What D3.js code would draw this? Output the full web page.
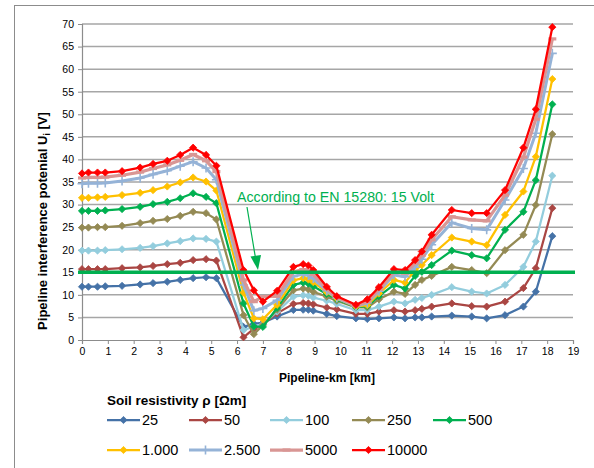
<!DOCTYPE html>
<html><head><meta charset="utf-8">
<script src="https://cdn.jsdelivr.net/npm/d3@7"></script>
<style>
html,body{margin:0;padding:0;background:#fff;}
svg{display:block;font-family:"Liberation Sans",Arial,sans-serif;}
</style></head>
<body><svg id="chart" width="594" height="468"></svg>
<script>
const km = [0, 0.25, 0.6, 0.9, 1.55, 2.25, 2.75, 3.3, 3.8, 4.3, 4.8, 5.2, 6.25, 6.65, 7.0, 7.55, 8.18, 8.56, 8.76, 8.95, 9.47, 9.86, 10.6, 11.04, 11.49, 12.07, 12.5, 12.89, 13.15, 13.53, 14.31, 15.08, 15.66, 16.37, 17.08, 17.56, 18.2];
const s25 = [11.8, 11.8, 11.8, 11.9, 12.0, 12.3, 12.6, 12.9, 13.3, 13.7, 13.9, 13.7, 2.9, 3.6, 3.8, 5.2, 6.65, 6.7, 6.7, 6.5, 5.8, 5.3, 4.8, 4.65, 4.8, 5.0, 4.8, 5.0, 5.0, 5.2, 5.4, 5.2, 4.8, 5.5, 7.4, 10.7, 23.0];
const s50 = [15.7, 15.7, 15.7, 15.7, 15.9, 16.1, 16.4, 16.8, 17.1, 17.7, 17.9, 17.6, 0.6, 2.5, 3.5, 5.9, 8.0, 8.2, 8.1, 7.9, 7.2, 6.8, 5.8, 5.8, 6.3, 6.6, 6.3, 6.6, 6.9, 7.4, 8.1, 7.5, 7.4, 8.5, 11.5, 15.9, 29.2];
const s100 = [19.8, 19.8, 19.8, 19.9, 20.1, 20.4, 20.8, 21.4, 21.9, 22.5, 22.4, 21.8, 2.2, 3.0, 3.5, 6.3, 9.6, 9.9, 9.8, 9.4, 8.7, 8.0, 6.6, 6.6, 7.4, 8.5, 8.1, 8.9, 9.3, 10.0, 11.7, 10.7, 10.3, 12.2, 16.2, 21.8, 36.4];
const s250 = [24.9, 24.9, 25.0, 25.0, 25.3, 25.9, 26.4, 26.8, 27.5, 28.4, 28.1, 26.7, 5.5, 1.3, 3.3, 6.7, 11.0, 11.4, 11.2, 10.7, 9.6, 8.7, 7.2, 7.2, 9.0, 10.7, 10.2, 12.2, 13.3, 14.2, 16.2, 15.5, 14.8, 19.9, 23.3, 29.9, 45.6];
const s500 = [28.6, 28.6, 28.6, 28.7, 29.0, 29.5, 30.1, 30.6, 31.4, 32.5, 31.7, 30.3, 8.1, 3.0, 2.9, 7.1, 12.2, 12.7, 12.5, 11.9, 10.2, 9.0, 7.3, 7.5, 9.7, 12.2, 11.4, 14.2, 15.1, 16.6, 19.8, 18.8, 18.1, 24.4, 28.4, 35.4, 52.2];
const s1000 = [31.5, 31.5, 31.6, 31.7, 32.1, 32.6, 33.2, 34.0, 34.9, 36.0, 35.1, 33.1, 10.5, 4.8, 4.6, 7.8, 13.2, 13.7, 13.4, 12.8, 10.6, 9.2, 7.4, 7.7, 10.3, 13.3, 12.7, 15.5, 16.6, 18.8, 22.7, 21.8, 21.0, 27.7, 32.9, 40.6, 57.8];
const s2500 = [34.6, 34.7, 34.7, 34.8, 35.2, 35.9, 36.7, 37.5, 38.5, 39.5, 38.1, 35.5, 12.2, 6.5, 7.0, 8.8, 14.1, 14.6, 14.3, 13.6, 10.9, 9.3, 7.5, 8.2, 10.8, 14.4, 14.0, 16.1, 17.9, 21.1, 26.0, 24.7, 24.4, 31.0, 38.0, 45.8, 63.5];
const s5000 = [35.9, 36.0, 36.0, 36.1, 36.5, 37.2, 38.0, 38.8, 39.8, 41.1, 39.7, 37.3, 13.3, 8.5, 9.6, 9.7, 15.1, 15.6, 15.3, 14.5, 11.3, 9.5, 7.6, 8.5, 11.2, 15.0, 14.8, 17.0, 18.8, 22.2, 27.3, 26.6, 26.4, 32.1, 40.5, 48.9, 66.7];
const s10000 = [36.9, 37.1, 37.1, 37.1, 37.4, 38.2, 39.0, 39.7, 41.0, 42.6, 41.0, 38.6, 15.5, 11.0, 8.5, 10.9, 16.2, 16.8, 16.5, 15.5, 11.8, 9.7, 7.8, 9.0, 11.7, 15.7, 15.5, 17.7, 19.6, 23.3, 28.8, 28.1, 28.1, 33.2, 42.6, 51.1, 69.3];

const seriesNames = ["25", "50", "100", "250", "500", "1.000", "2.500", "5000", "10000"];
const seriesValues = [s25, s50, s100, s250, s500, s1000, s2500, s5000, s10000];
const seriesColors = ["#4572a7", "#aa4643", "#93cddd", "#948a54", "#00b050", "#ffc000", "#95b3d7", "#d99694", "#ff0000"];
const seriesMarkers = ["diamond", "diamond", "diamond", "diamond", "diamond", "diamond", "plus", "dash", "diamond"];
const seriesWidths = [2.25, 2.25, 2.25, 2.25, 2.25, 2.25, 3, 3.25, 2.25];

const xTicks = d3.range(0, 20, 1);
const yTicks = d3.range(0, 75, 5);
const limitValue = 15;
const limitLabel = "According to EN 15280: 15 Volt";
const yTitle = "Pipeline interference potenial U";
const xTitle = "Pipeline-km [km]";
const legendTitle = "Soil resistivity ρ [Ωm]";

const svg = d3.select("#chart");
const x = d3.scaleLinear().domain([0, 19]).range([82, 573]);
const y = d3.scaleLinear().domain([0, 70]).range([340, 24]);

// outer frame
svg.append("rect").attr("x", 14.5).attr("y", 5.5).attr("width", 600).attr("height", 480)
  .attr("fill", "none").attr("stroke", "#8c8c8c").attr("stroke-width", 1);

// gridlines
svg.append("g").selectAll("line").data(yTicks.filter(d => d > 0)).join("line")
  .attr("x1", x(0)).attr("x2", x(19)).attr("y1", d => y(d)).attr("y2", d => y(d))
  .attr("stroke", "#a6a6a6").attr("stroke-width", 1.5);

// axes
const yAxis = d3.axisLeft(y).tickValues(yTicks).tickSize(4).tickPadding(4);
const gy = svg.append("g").attr("transform", `translate(${x(0)},0)`).call(yAxis);
const xAxis = d3.axisBottom(x).tickValues(xTicks).tickSize(4).tickPadding(4);
const gx = svg.append("g").attr("transform", `translate(0,${y(0)})`).call(xAxis);
[gx, gy].forEach(g => {
  g.select(".domain").attr("stroke", "#8c8c8c").attr("stroke-width", 1.2);
  g.selectAll(".tick line").attr("stroke", "#8c8c8c");
  g.selectAll("text").attr("font-size", 10.5).attr("fill", "#000")
    .attr("font-family", '"Liberation Sans",Arial,sans-serif');
});

// series
const line = d3.line().x((d, i) => x(km[i])).y(d => y(d));
function marker(sel, type, color) {
  if (type === "diamond") {
    sel.append("path").attr("d", "M0,-3.6L3.6,0L0,3.6L-3.6,0Z").attr("fill", color).attr("stroke", color).attr("stroke-width", 0.8);
  } else if (type === "plus") {
    sel.append("path").attr("d", "M-4.5,0H4.5M0,-4.5V4.5").attr("stroke", color).attr("stroke-width", 1.6).attr("fill", "none");
  } else {
    sel.append("path").attr("d", "M-4,0H4").attr("stroke", color).attr("stroke-width", 3.2).attr("fill", "none");
  }
}
seriesValues.forEach((vals, si) => {
  const g = svg.append("g");
  g.append("path").datum(vals).attr("d", line).attr("fill", "none")
    .attr("stroke", seriesColors[si]).attr("stroke-width", seriesWidths[si]).attr("stroke-linejoin", "round");
  vals.forEach((v, i) => {
    const m = g.append("g").attr("transform", `translate(${x(km[i])},${y(v)})`);
    marker(m, seriesMarkers[si], seriesColors[si]);
  });
});

// limit line
svg.append("line").attr("x1", 78).attr("x2", 575).attr("y1", y(limitValue)).attr("y2", y(limitValue))
  .attr("stroke", "#00b050").attr("stroke-width", 3.5);
svg.append("text").attr("x", 237).attr("y", 202).attr("font-size", 14.2).attr("fill", "#00b050").text(limitLabel);
// arrow
svg.append("line").attr("x1", 247).attr("y1", 207).attr("x2", 255.5).attr("y2", 258)
  .attr("stroke", "#00b050").attr("stroke-width", 1.2);
svg.append("path").attr("d", "M258,270L250.5,256.5L261,255Z").attr("fill", "#00b050");

// axis titles
const yt = svg.append("text").attr("transform", "translate(47,221) rotate(-90)")
  .attr("text-anchor", "middle").attr("font-size", 13).attr("font-weight", "bold");
yt.append("tspan").text(yTitle);
yt.append("tspan").attr("font-size", 9).attr("dy", 3).text("i");
yt.append("tspan").attr("dy", -3).text(" [V]");
svg.append("text").attr("x", 327).attr("y", 382).attr("text-anchor", "middle")
  .attr("font-size", 12).attr("font-weight", "bold").text(xTitle);

// legend
svg.append("text").attr("x", 107).attr("y", 405).attr("font-size", 13.5).attr("font-weight", "bold").text(legendTitle);
const legX = [107, 189, 270, 352, 433];
seriesNames.forEach((n, i) => {
  const row = i < 5 ? 0 : 1;
  const col = i < 5 ? i : i - 5;
  const lx = legX[col], ly = row === 0 ? 420 : 450;
  const g = svg.append("g");
  g.append("line").attr("x1", lx).attr("x2", lx + 33).attr("y1", ly).attr("y2", ly)
    .attr("stroke", seriesColors[i]).attr("stroke-width", seriesWidths[i]);
  const m = g.append("g").attr("transform", `translate(${lx + 16.5},${ly})`);
  marker(m, seriesMarkers[i], seriesColors[i]);
  g.append("text").attr("x", lx + 35).attr("y", ly + 5).attr("font-size", 14.5).text(n);
});
</script></body></html>
